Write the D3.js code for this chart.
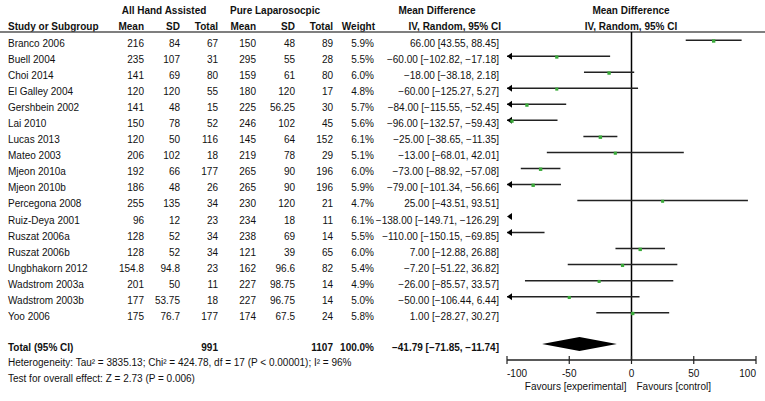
<!DOCTYPE html>
<html><head><meta charset="utf-8">
<script src="https://cdn.jsdelivr.net/npm/d3@7"></script>
<style>body{margin:0;background:#fff}svg{display:block}text{font-family:Arial,"Liberation Sans",sans-serif;font-size:10px;fill:#111}</style>
</head><body><svg id="c" width="765" height="401"></svg>
<script>
const studies = ["Branco 2006","Buell 2004","Choi 2014","El Galley 2004","Gershbein 2002","Lai 2010","Lucas 2013","Mateo 2003","Mjeon 2010a","Mjeon 2010b","Percegona 2008","Ruiz-Deya 2001","Ruszat 2006a","Ruszat 2006b","Ungbhakorn 2012","Wadstrom 2003a","Wadstrom 2003b","Yoo 2006"];
const hMean = ["216","235","141","120","141","150","120","206","192","186","255","96","128","128","154.8","201","177","175"];
const hSD = ["84","107","69","120","48","78","50","102","66","48","135","12","52","52","94.8","50","53.75","76.7"];
const hTotal = ["67","31","80","55","15","52","116","18","177","26","34","23","34","34","23","11","18","177"];
const pMean = ["150","295","159","180","225","246","145","219","265","265","230","234","238","121","162","227","227","174"];
const pSD = ["48","55","61","120","56.25","102","64","78","90","90","120","18","69","39","96.6","98.75","96.75","67.5"];
const pTotal = ["89","28","80","17","30","45","152","29","196","196","21","11","14","65","82","14","14","24"];
const weight = [5.9,5.5,6.0,4.8,5.7,5.6,6.1,5.1,6.0,5.9,4.7,6.1,5.5,6.0,5.4,4.9,5.0,5.8];
const md = [66.00,-60.00,-18.00,-60.00,-84.00,-96.00,-25.00,-13.00,-73.00,-79.00,25.00,-138.00,-110.00,7.00,-7.20,-26.00,-50.00,1.00];
const lo = [43.55,-102.82,-38.18,-125.27,-115.55,-132.57,-38.65,-68.01,-88.92,-101.34,-43.51,-149.71,-150.15,-12.88,-51.22,-85.57,-106.44,-28.27];
const hi = [88.45,-17.18,2.18,5.27,-52.45,-59.43,-11.35,42.01,-57.08,-56.66,93.51,-126.29,-69.85,26.88,36.82,33.57,6.44,30.27];
const total = {hTotal:"991", pTotal:"1107", weight:"100.0%", md:-41.79, lo:-71.85, hi:-11.74};
const axisTicks = [-100,-50,0,50,100];
const hetText = "Heterogeneity: Tau\u00b2 = 3835.13; Chi\u00b2 = 424.78, df = 17 (P < 0.00001); I\u00b2 = 96%";
const testText = "Test for overall effect: Z = 2.73 (P = 0.006)";

const svg = d3.select("#c");
const x = d3.scaleLinear().domain([-100,100]).range([507,756]);
const y = d3.scaleLinear().domain([0,17]).range([40.2,312.7]);
const yTot = 344, yAxis = 360;
const fmt = d3.format(".2f");
const ciStr = (m,l,h)=>`${fmt(m)} [${fmt(l)}, ${fmt(h)}]`;

// header
const hdr = svg.append("g").style("font-weight","bold");
hdr.append("text").attr("x",164).attr("y",13.5).attr("text-anchor","middle").text("All Hand Assisted");
hdr.append("text").attr("x",275).attr("y",13.5).attr("text-anchor","middle").text("Pure Laparosocpic");
hdr.append("text").attr("x",437).attr("y",13.5).attr("text-anchor","middle").text("Mean Difference");
hdr.append("text").attr("x",631).attr("y",13.5).attr("text-anchor","middle").text("Mean Difference");
hdr.append("text").attr("x",8).attr("y",29.5).text("Study or Subgroup");
const cols = [[144,"Mean"],[180,"SD"],[218,"Total"],[256,"Mean"],[295,"SD"],[333,"Total"],[375,"Weight"],[501,"IV, Random, 95% CI"]];
cols.forEach(c=>hdr.append("text").attr("x",c[0]).attr("y",29.5).attr("text-anchor","end").text(c[1]));
hdr.append("text").attr("x",631).attr("y",29.5).attr("text-anchor","middle").text("IV, Random, 95% CI");
svg.append("line").attr("x1",0).attr("x2",765).attr("y1",32).attr("y2",32).attr("stroke","#555").attr("stroke-width",1.5);

// rows
const rows = svg.append("g");
studies.forEach((s,i)=>{
  const ty = y(i)+7;
  rows.append("text").attr("x",8).attr("y",ty).text(s);
  const vals = [hMean[i],hSD[i],hTotal[i],pMean[i],pSD[i],pTotal[i],weight[i].toFixed(1)+"%"];
  vals.forEach((v,k)=>rows.append("text").attr("x",[144,180,218,256,295,333,374][k]).attr("y",ty).attr("text-anchor","end").text(v));
  rows.append("text").attr("x",499).attr("y",ty).attr("text-anchor","end").text(ciStr(md[i],lo[i],hi[i]));
});

// zero line
svg.append("line").attr("x1",x(0)).attr("x2",x(0)).attr("y1",32).attr("y2",yAxis).attr("stroke","#000").attr("stroke-width",1.5);

// CI lines
const plot = svg.append("g");
studies.forEach((s,i)=>{
  const yy = y(i);
  const l = Math.max(lo[i],-100), h = Math.min(hi[i],100);
  if (h > l) plot.append("line").attr("x1",x(l)).attr("x2",x(h)).attr("y1",yy).attr("y2",yy).attr("stroke","#222").attr("stroke-width",1.5);
  if (lo[i] < -100) {
    const ax = x(-100);
    plot.append("path").attr("d",`M${ax},${yy}L${ax+5},${yy-3.5}L${ax+5},${yy+3.5}Z`).attr("fill","#000");
  }
  if (md[i] >= -100 && md[i] <= 100) {
    const sz = 3.4*Math.sqrt(weight[i]/6);
    plot.append("rect").attr("x",x(md[i])-sz/2).attr("y",yy-sz/2+0.8).attr("width",sz).attr("height",sz).attr("fill","#3aaa3a");
  }
});

// total
const tg = svg.append("g").style("font-weight","bold");
tg.append("text").attr("x",8).attr("y",351).text("Total (95% CI)");
tg.append("text").attr("x",218).attr("y",351).attr("text-anchor","end").text(total.hTotal);
tg.append("text").attr("x",333).attr("y",351).attr("text-anchor","end").text(total.pTotal);
tg.append("text").attr("x",374).attr("y",351).attr("text-anchor","end").text(total.weight);
tg.append("text").attr("x",499).attr("y",351).attr("text-anchor","end").text(ciStr(total.md,total.lo,total.hi));
svg.append("path").attr("d",`M${x(total.lo)},${yTot}L${x(total.md)},${yTot-7}L${x(total.hi)},${yTot}L${x(total.md)},${yTot+7}Z`).attr("fill","#000");

svg.append("text").attr("x",8).attr("y",366).text(hetText);
svg.append("text").attr("x",8).attr("y",382).text(testText);

// axis
const ag = svg.append("g");
ag.append("line").attr("x1",x(-100)).attr("x2",x(100)).attr("y1",yAxis).attr("y2",yAxis).attr("stroke","#222").attr("stroke-width",1.5);
axisTicks.forEach((t,k)=>{
  ag.append("line").attr("x1",x(t)).attr("x2",x(t)).attr("y1",yAxis-4).attr("y2",yAxis+4).attr("stroke","#222").attr("stroke-width",1.2);
  const anchor = k===0?"start":(k===axisTicks.length-1?"end":"middle");
  ag.append("text").attr("x",x(t)).attr("y",376.5).attr("text-anchor",anchor).text(t);
});
ag.append("text").attr("x",x(0)-5).attr("y",390).attr("text-anchor","end").text("Favours [experimental]");
ag.append("text").attr("x",x(0)+5).attr("y",390).attr("text-anchor","start").text("Favours [control]");
</script></body></html>
